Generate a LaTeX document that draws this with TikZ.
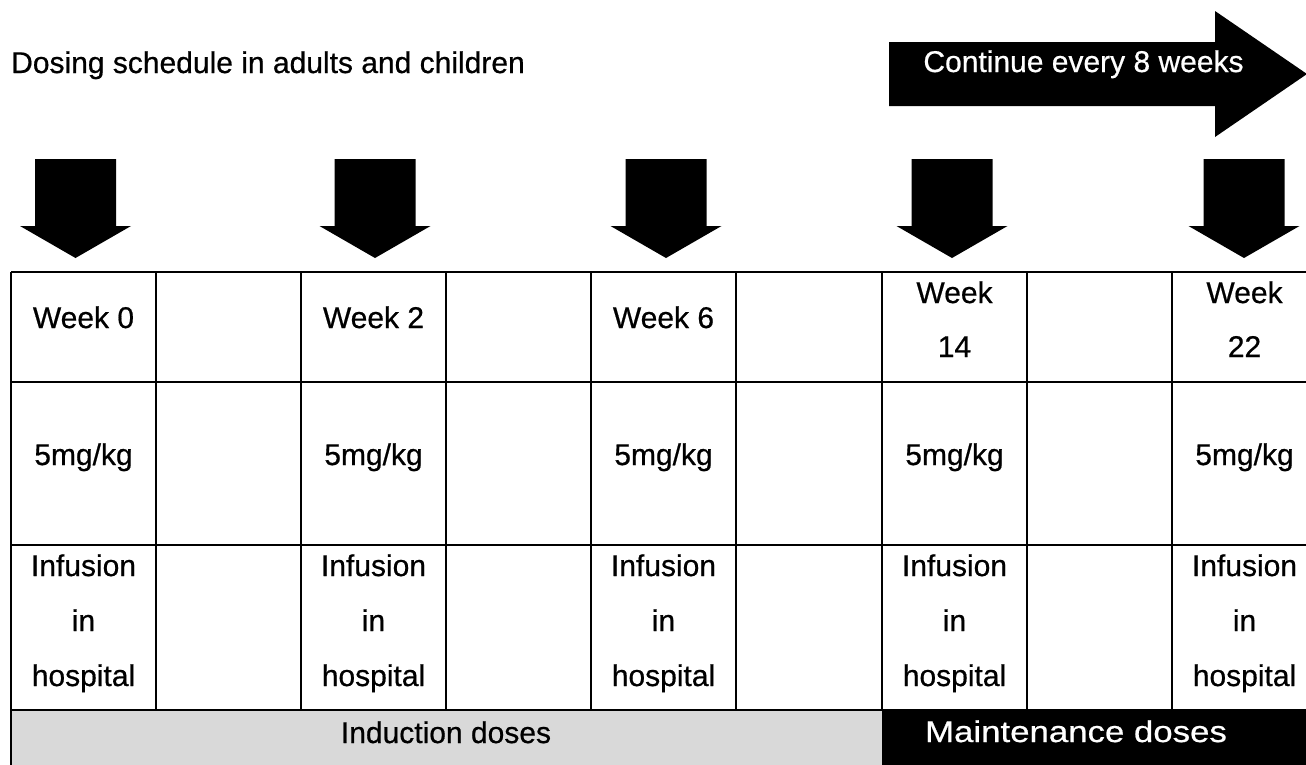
\documentclass[tikz,border=0pt]{standalone}
\usepackage{fontspec}
\setmainfont{Liberation Sans}[FakeBold=0.6]
\newfontfamily\labelfont{Liberation Sans}[FakeBold=0.6]
\definecolor{cellgray}{HTML}{D9D9D9}
\begin{document}
\begin{tikzpicture}[x=1pt,y=-1pt,
  txt/.style={inner sep=0pt, anchor=base, font=\labelfont\fontsize{30}{36}\selectfont},
  wtxt/.style={txt, text=white},
  gridline/.style={line width=2.8pt},
  bigarrow/.style={fill=black}]
\clip (0,0) rectangle (1306,764);
\fill[white] (0,0) rectangle (1306,764);

% title
\node[txt, anchor=base west] (title) at (11,73) {Dosing schedule in adults and children};

% continue arrow
\fill[bigarrow] (889,42) -- (1215,42) -- (1215,11) -- (1307,74) -- (1215,137) -- (1215,106) -- (889,106) -- cycle;
\node[wtxt] (cont) at (1083.5,72) {Continue every 8 weeks};

% down arrows
\foreach \cx in {75.5,375,666,952,1244}{
  \fill[bigarrow] ({\cx-40.5},159) -- ({\cx+40.5},159) -- ({\cx+40.5},226) -- ({\cx+55.5},226)
     -- (\cx,258) -- ({\cx-55.5},226) -- ({\cx-40.5},226) -- cycle;
}

% bottom row fills
\fill[cellgray] (11,710) rectangle (882,770);
\fill[black] (882,710) rectangle (1320,770);

% grid
\foreach \yy in {272,382,545,710}{
  \draw[gridline] (11,\yy) -- (1320,\yy);
}
\foreach \xx in {156,301,446,591,736,882,1027,1172,1317}{
  \draw[gridline] (\xx,272) -- (\xx,710);
}
\draw[gridline] (11,272) -- (11,770);

% week labels
\node[txt] (w0) at (83.5,328) {Week 0};
\node[txt] (w2) at (373.5,328) {Week 2};
\node[txt] (w6) at (663.5,328) {Week 6};
\node[txt] (w14a) at (954.5,303) {Week};
\node[txt] (w14b) at (954.5,357) {14};
\node[txt] (w22a) at (1244.5,303) {Week};
\node[txt] (w22b) at (1244.5,357) {22};

% doses and infusion
\foreach \cx/\nm in {83.5/c1,373.5/c3,663.5/c5,954.5/c7,1244.5/c9}{
  \node[txt] (dose\nm) at (\cx,465) {5mg/kg};
  \node[txt] (infa\nm) at (\cx,576) {Infusion};
  \node[txt] (infb\nm) at (\cx,631) {in};
  \node[txt] (infc\nm) at (\cx,686) {hospital};
}

% bottom labels
\node[txt] (induct) at (446,743) {Induction doses};
\node[wtxt] (maint) at (1076,742) {\scalebox{1.16}[1]{Maintenance doses}};
\end{tikzpicture}
\end{document}
